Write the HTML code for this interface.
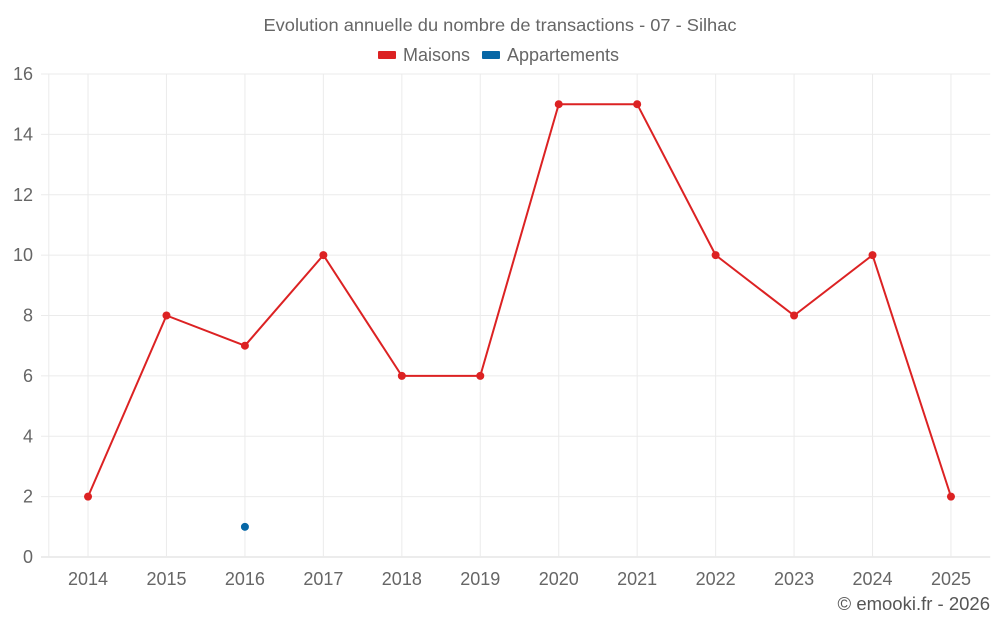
<!DOCTYPE html>
<html><head><meta charset="utf-8">
<style>
html,body{margin:0;padding:0;background:#fff;width:1000px;height:625px;overflow:hidden}
svg{display:block;font-family:"Liberation Sans",sans-serif}
</style></head><body>
<svg id="chart" width="1000" height="625"></svg>
<script>
const categories=["2014","2015","2016","2017","2018","2019","2020","2021","2022","2023","2024","2025"];
const maisons=[2,8,7,10,6,6,15,15,10,8,10,2];
const appartements=[null,null,1,null,null,null,null,null,null,null,null,null];
const yTicks=[0,2,4,6,8,10,12,14,16];

const NS="http://www.w3.org/2000/svg";
const svg=document.getElementById('chart');
const L=48.8,R=990.2,T=74,B=557,yMax=16;
const bw=(R-L)/categories.length;
const x=i=>L+bw*(i+0.5);
const y=v=>B-(v/yMax)*(B-T);
function el(tag,attrs,parent){const e=document.createElementNS(NS,tag);for(const k in attrs)e.setAttribute(k,attrs[k]);(parent||svg).appendChild(e);return e;}

const title=el('text',{x:500,y:31,'text-anchor':'middle','font-size':17.5,fill:'#666',textLength:473,lengthAdjust:'spacingAndGlyphs'});
title.textContent="Evolution annuelle du nombre de transactions - 07 - Silhac";



const lg1=el('g',{});


el('rect',{x:378,y:51,width:18,height:8,rx:1,fill:'#dc2223'},lg1);
const t1=el('text',{x:403,y:61,'font-size':18,fill:'#666'},lg1);t1.textContent="Maisons";
const lg2=el('g',{});


el('rect',{x:482,y:51,width:18,height:8,rx:1,fill:'#0767a6'},lg2);
const t2=el('text',{x:507,y:61,'font-size':18,fill:'#666'},lg2);t2.textContent="Appartements";

yTicks.forEach(v=>{
  const g=el('line',{x1:41,x2:R,y1:y(v),y2:y(v),stroke:v===0?'#d8d8d8':'#ebebeb','stroke-width':1});
  
  
  const t=el('text',{x:33,y:y(v)+6,'text-anchor':'end','font-size':18,fill:'#666'});
  t.textContent=v;
  
  
});
el('line',{x1:L,x2:L,y1:T,y2:B,stroke:'#ebebeb'});
categories.forEach((c,i)=>{
  const g=el('line',{x1:x(i),x2:x(i),y1:T,y2:B,stroke:'#ebebeb'});
  
  
  const t=el('text',{x:x(i),y:585,'text-anchor':'middle','font-size':18,fill:'#666'});
  t.textContent=c;
  
  
});

const pts=maisons.map((v,i)=>x(i)+','+y(v)).join(' ');
const line=el('polyline',{points:pts,fill:'none',stroke:'#dc2223','stroke-width':2});


maisons.forEach((v,i)=>{
  const c=el('circle',{cx:x(i),cy:y(v),r:4,fill:'#dc2223'});
  
  
});
appartements.forEach((v,i)=>{
  if(v==null)return;
  const c=el('circle',{cx:x(i),cy:y(v),r:4,fill:'#0767a6'});
  
  
});

const cr=el('text',{x:990,y:610,'text-anchor':'end','font-size':18.5,fill:'#555'});
cr.textContent="© emooki.fr - 2026";


</script>
</body></html>
